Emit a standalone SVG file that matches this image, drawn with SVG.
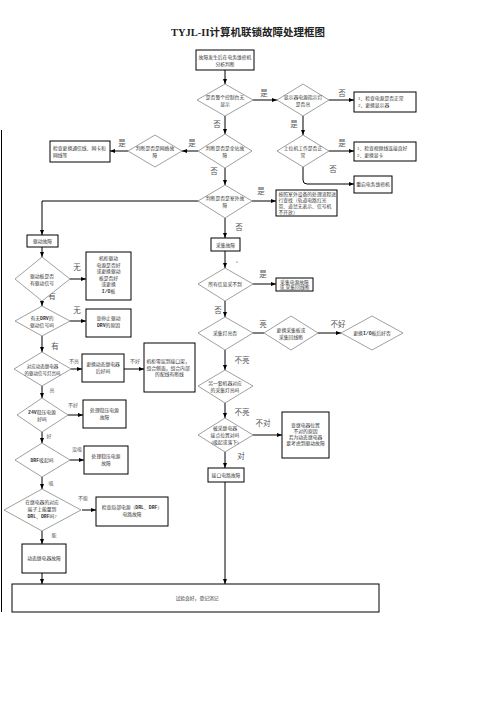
<svg xmlns="http://www.w3.org/2000/svg" width="504" height="713" viewBox="0 0 504 713">
<style>
.bx{fill:#fff;stroke:#000;stroke-width:1}
.dm{fill:#fff;stroke:#777;stroke-width:0.7}
.t{font-family:"Liberation Serif","Noto Sans CJK SC",serif;font-size:4.8px;fill:#333;text-anchor:middle}
.tl{font-family:"Liberation Serif","Noto Sans CJK SC",serif;font-size:4.8px;fill:#333}
.lb{font-family:"Liberation Serif","Noto Sans CJK SC",serif;font-size:7.5px;fill:#555;text-anchor:middle}
.ls{font-family:"Liberation Serif","Noto Sans CJK SC",serif;font-size:5px;fill:#555;text-anchor:middle}
.ln{stroke:#000;stroke-width:1;fill:none;marker-end:url(#ah)}
.pl{stroke:#000;stroke-width:1;fill:none}
.b{font-weight:bold;font-family:"Liberation Mono",monospace}
</style>
<defs>
<marker id="ah" viewBox="0 0 10 8" markerWidth="5" markerHeight="4" refX="10" refY="4" orient="auto" markerUnits="userSpaceOnUse"><path d="M0,0L10,4L0,8z" fill="#000"/></marker>
</defs>
<text x="248" y="36" style="font-family:'Liberation Serif','Noto Sans CJK SC',serif;font-size:10.5px;font-weight:bold;text-anchor:middle;fill:#222">TYJL-II计算机联锁故障处理框图</text>
<line x1="1.5" y1="130" x2="1.5" y2="612" stroke="#000" stroke-width="1"/>
<g id="connectors">
<path class="ln" d="M225,70V84"/>
<path class="ln" d="M253,100H277"/>
<path class="ln" d="M329,100H354"/>
<path class="ln" d="M225,116V134"/>
<path class="ln" d="M303,116V135"/>
<path class="ln" d="M198,151H182"/>
<path class="ln" d="M128,151H110"/>
<path class="ln" d="M329,151H354"/>
<path class="ln" d="M303,167V180Q303,184 307,184H354"/>
<path class="ln" d="M225,168V185"/>
<path class="ln" d="M252,201H276"/>
<path class="ln" d="M198,201H42V235"/>
<path class="ln" d="M225,218V238"/>
<path class="ln" d="M225,251V268"/>
<path class="ln" d="M253,284H276"/>
<path class="ln" d="M225,301V317"/>
<path class="pl" d="M253,333H264"/>
<path class="ln" d="M318,333H341"/>
<path class="ln" d="M225,350V370"/>
<path class="ln" d="M225,403V418"/>
<path class="ln" d="M253,435H282"/>
<path class="ln" d="M225,452V468"/>
<path class="ln" d="M225,482V584"/>
<path class="ln" d="M42,247V257"/>
<path class="ln" d="M70,279H86"/>
<path class="ln" d="M42,301V306"/>
<path class="ln" d="M70,321H86"/>
<path class="ln" d="M42,336V352"/>
<path class="ln" d="M71,369H82"/>
<path class="ln" d="M124,369H144"/>
<path class="ln" d="M42,386V398"/>
<path class="ln" d="M68,415H83"/>
<path class="ln" d="M42,432V443"/>
<path class="ln" d="M70,460H84"/>
<path class="ln" d="M42,477V489"/>
<path class="ln" d="M82,510H96"/>
<path class="ln" d="M42,531V544"/>
<path class="ln" d="M42,573V584"/>
<circle cx="237" cy="262" r="0.6" fill="#333"/>
<text class="lb" x="264" y="96">是</text>
<text class="lb" x="342" y="96">否</text>
<text class="lb" x="217" y="127">否</text>
<text class="lb" x="294" y="127">是</text>
<text class="lb" x="192" y="146">是</text>
<text class="lb" x="122" y="146">是</text>
<text class="lb" x="342" y="146">是</text>
<text class="lb" x="333" y="172">否</text>
<text class="lb" x="214" y="174">否</text>
<text class="lb" x="261" y="194">是</text>
<text class="lb" x="239" y="230">否</text>
<text class="lb" x="263" y="277">是</text>
<text class="lb" x="218" y="313">否</text>
<text class="lb" x="263" y="327">亮</text>
<text class="lb" x="338" y="327">不好</text>
<text class="lb" x="242" y="363">不亮</text>
<text class="lb" x="242" y="415">不亮</text>
<text class="lb" x="263" y="426">不对</text>
<text class="lb" x="241" y="459">对</text>
<text class="lb" x="77" y="270">无</text>
<text class="lb" x="52" y="299">有</text>
<text class="lb" x="77" y="313">无</text>
<text class="lb" x="55" y="349">有</text>
<text class="ls" x="74" y="363">不亮</text>
<text class="ls" x="135" y="363">不好</text>
<text class="ls" x="52" y="392">亮</text>
<text class="ls" x="73" y="407">不好</text>
<text class="ls" x="49" y="438">好</text>
<text class="ls" x="77" y="451">没吸</text>
<text class="ls" x="51" y="485">吸</text>
<text class="ls" x="83" y="500">不能</text>
<text class="ls" x="54" y="537">能</text>
</g>
<g id="n_start"><rect class="bx" x="196" y="50" width="58" height="20"/><text class="t" x="225" y="58.5">故障发生后在电务维修机</text><text class="t" x="225" y="65.5">分析判断</text></g>
<g id="n_d1"><polygon class="dm" points="197,100 225,84 253,100 225,116"/><text class="t" x="225" y="99">是否整个控制台无</text><text class="t" x="225" y="106">显示</text></g>
<g id="n_d2"><polygon class="dm" points="277,100 303,84 329,100 303,116"/><text class="t" x="303" y="99">显示器电源指示灯</text><text class="t" x="303" y="106">是否亮</text></g>
<g id="n_b1"><rect class="bx" x="354" y="92" width="62" height="20"/><text class="tl" x="358" y="100">1、检查电源是否正常</text><text class="tl" x="358" y="107">2、更换显示器</text></g>
<g id="n_d3"><polygon class="dm" points="198,151 225,134 252,151 225,168"/><text class="t" x="225" y="150">判断是否是全站故</text><text class="t" x="225" y="157">障</text></g>
<g id="n_d4"><polygon class="dm" points="128,151 155,135 182,151 155,167"/><text class="t" x="155" y="150">判断是否是网络故</text><text class="t" x="155" y="157">障</text></g>
<g id="n_b2"><rect class="bx" x="50" y="141" width="60" height="21"/><text class="tl" x="53" y="150">检查更换通信线、网卡和</text><text class="tl" x="53" y="157">网线等</text></g>
<g id="n_d5"><polygon class="dm" points="277,151 303,135 329,151 303,167"/><text class="t" x="303" y="150">上位机工作是否正</text><text class="t" x="303" y="157">常</text></g>
<g id="n_b3"><rect class="bx" x="354" y="142" width="62" height="19"/><text class="tl" x="357" y="150">1、检查视频线连接良好</text><text class="tl" x="357" y="157">2、更换显卡</text></g>
<g id="n_b4"><rect class="bx" x="354" y="176" width="38" height="17"/><text class="t" x="373" y="186">重启电务维修机</text></g>
<g id="n_d6"><polygon class="dm" points="198,201 225,185 252,201 225,218"/><text class="t" x="225" y="200">判断是否是室外故</text><text class="t" x="225" y="207">障</text></g>
<g id="n_b5"><rect class="bx" x="276" y="190" width="61" height="26"/><text class="tl" x="278.5" y="196">按照室外设备的处理流程进</text><text class="tl" x="278.5" y="202">行查找（轨道电路红光</text><text class="tl" x="278.5" y="208">带、道岔无表示、信号机</text><text class="tl" x="278.5" y="214">不开放）</text></g>
<g id="n_cj"><rect class="bx" x="211" y="238" width="29" height="13"/><text class="t" x="225.5" y="246.5">采集故障</text></g>
<g id="n_d7"><polygon class="dm" points="198,284 225,268 253,284 225,301"/><text class="t" x="225" y="286">所有信息采不到</text></g>
<g id="n_b6"><rect class="bx" x="276" y="278" width="37" height="13"/><text class="t" x="294.5" y="283.5">采集电源故障</text><text class="t" x="294.5" y="289">或,采集回线断</text></g>
<g id="n_d8"><polygon class="dm" points="198,333 225,317 253,333 225,350"/><text class="t" x="225" y="335">采集灯亮否</text></g>
<g id="n_d9"><polygon class="dm" points="264,333 291,316 318,333 291,350"/><text class="t" x="291" y="332">更换采集板或</text><text class="t" x="291" y="339">采集回线断</text></g>
<g id="n_d10"><polygon class="dm" points="341,333 372,316 403,333 372,350"/><text class="t" x="372" y="335">更换<tspan class="b">I/O</tspan>板后好否</text></g>
<g id="n_d11"><polygon class="dm" points="198,386 225,370 253,386 225,403"/><text class="t" x="225" y="385">另一套机器对应</text><text class="t" x="225" y="392">的采集灯亮吗</text></g>
<g id="n_d12"><polygon class="dm" points="198,435 225,418 253,435 225,452"/><text class="t" x="225" y="430">被采继电器</text><text class="t" x="225" y="437">接点位置对吗</text><text class="t" x="225" y="444">(吸起或落下)</text></g>
<g id="n_b7"><rect class="bx" x="282" y="412" width="47" height="46"/><text class="t" x="305.5" y="427">查继电器位置</text><text class="t" x="305.5" y="433">不对的原因</text><text class="t" x="305.5" y="439">若为动态继电器</text><text class="t" x="305.5" y="445">要考虑到驱动故障</text></g>
<g id="n_b8"><rect class="bx" x="208" y="468" width="36" height="14"/><text class="t" x="226" y="477">接口电路故障</text></g>
<g id="n_qd"><rect class="bx" x="27" y="235" width="31" height="12"/><text class="t" x="42.5" y="242.8">驱动故障</text></g>
<g id="n_d13"><polygon class="dm" points="15,279 42,257 70,279 42,301"/><text class="t" x="42" y="278">驱动板是否</text><text class="t" x="42" y="285">有驱动信号</text></g>
<g id="n_b9"><rect class="bx" x="86" y="252" width="45" height="48"/><text class="t" x="108.5" y="260">机柜驱动</text><text class="t" x="108.5" y="266.5">电源是否好</text><text class="t" x="108.5" y="273">或更换驱动</text><text class="t" x="108.5" y="279.5">板是否好</text><text class="t" x="108.5" y="286">或更换</text><text class="t" x="108.5" y="292.5"><tspan class="b">I/O</tspan>板</text></g>
<g id="n_d14"><polygon class="dm" points="15,321 42,306 70,321 42,336"/><text class="t" x="42" y="320">有无<tspan class="b">DRV</tspan>的</text><text class="t" x="42" y="327">驱动信号吗</text></g>
<g id="n_b10"><rect class="bx" x="86" y="309" width="45" height="28"/><text class="t" x="108.5" y="320">查停止驱动</text><text class="t" x="108.5" y="327"><tspan class="b">DRV</tspan>的原因</text></g>
<g id="n_d15"><polygon class="dm" points="14,369 42,352 71,369 42,386"/><text class="t" x="42.5" y="368" style="font-size:4.5px">对应动态继电器</text><text class="t" x="42.5" y="375" style="font-size:4.5px">的驱动信号灯亮吗</text></g>
<g id="n_b11"><rect class="bx" x="82" y="354" width="42" height="28"/><text class="t" x="103" y="366">更换动态继电器</text><text class="t" x="103" y="373">后好吗</text></g>
<g id="n_b12"><rect class="bx" x="144" y="343" width="51" height="49"/><text class="tl" x="146.5" y="363">机柜零层到接口架，</text><text class="tl" x="146.5" y="369.5">组合侧面，组合内部</text><text class="t" x="169.5" y="376">的配线有断线</text></g>
<g id="n_d16"><polygon class="dm" points="17,415 42,398 68,415 42,432"/><text class="t" x="42" y="414"><tspan class="b">24V</tspan>稳压电源</text><text class="t" x="42" y="421">好吗</text></g>
<g id="n_b13"><rect class="bx" x="83" y="400" width="43" height="28"/><text class="t" x="104.5" y="412">处理稳压电源</text><text class="t" x="104.5" y="419">故障</text></g>
<g id="n_d17"><polygon class="dm" points="15,460 42,443 70,460 42,477"/><text class="t" x="42" y="462"><tspan class="b">DRF</tspan>吸起吗</text></g>
<g id="n_b14"><rect class="bx" x="84" y="446" width="44" height="28"/><text class="t" x="106" y="458">处理稳压电源</text><text class="t" x="106" y="465">故障</text></g>
<g id="n_d18"><polygon class="dm" points="4,510 42,489 81,510 42,531"/><text class="t" x="42" y="504">在继电器的对应</text><text class="t" x="42" y="511">端子上能量到</text><text class="t" x="42" y="518"><tspan class="b">DRL</tspan>、<tspan class="b">DRF</tspan>吗?</text></g>
<g id="n_b15"><rect class="bx" x="96" y="497" width="72" height="29"/><text class="t" x="132" y="509">检查局部电源（<tspan class="b">DRL</tspan>、<tspan class="b">DRF</tspan>）</text><text class="t" x="132" y="516">电路故障</text></g>
<g id="n_b16"><rect class="bx" x="22" y="544" width="44" height="29"/><text class="t" x="44" y="560">动态继电器故障</text></g>
<g id="n_end"><rect class="bx" x="12" y="584" width="367" height="28"/><text class="t" x="197" y="600">试验良好，登记消记</text></g>
</svg>
